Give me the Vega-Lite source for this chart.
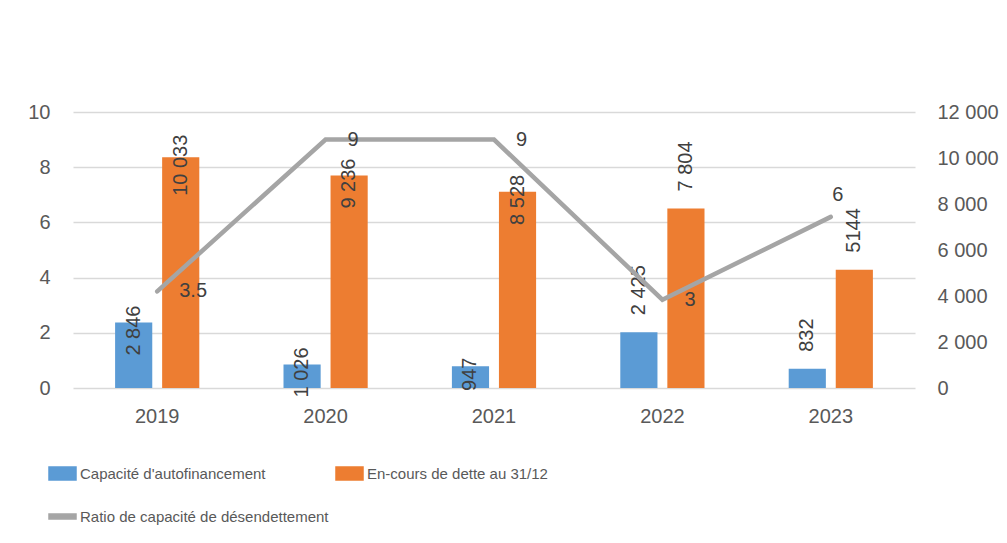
{
  "$schema": "https://vega.github.io/schema/vega-lite/v6.json",
  "width": 842,
  "height": 276,
  "autosize": {"type": "none"},
  "padding": {"left": 73, "top": 112, "right": 92, "bottom": 155},
  "background": "white",
  "config": {
    "view": {"stroke": null},
    "font": "Liberation Sans",
    "axis": {
      "labelFont": "Liberation Sans",
      "labelFontSize": 20,
      "labelColor": "#595959",
      "ticks": false,
      "domain": false,
      "title": null
    }
  },
  "datasets": {
    "bars": [
      {"year": 2019, "series": "Capacité d'autofinancement", "value": 2846, "label": "2 846"},
      {"year": 2019, "series": "En-cours de dette au 31/12", "value": 10033, "label": "10 033"},
      {"year": 2020, "series": "Capacité d'autofinancement", "value": 1026, "label": "1 026"},
      {"year": 2020, "series": "En-cours de dette au 31/12", "value": 9236, "label": "9 236"},
      {"year": 2021, "series": "Capacité d'autofinancement", "value": 947, "label": "947"},
      {"year": 2021, "series": "En-cours de dette au 31/12", "value": 8528, "label": "8 528"},
      {"year": 2022, "series": "Capacité d'autofinancement", "value": 2425, "label": "2 425"},
      {"year": 2022, "series": "En-cours de dette au 31/12", "value": 7804, "label": "7 804"},
      {"year": 2023, "series": "Capacité d'autofinancement", "value": 832, "label": "832"},
      {"year": 2023, "series": "En-cours de dette au 31/12", "value": 5144, "label": "5144"}
    ],
    "ratio": [
      {"year": 2019, "series": "Ratio de capacité de désendettement", "ratio": 3.5, "label": "3.5"},
      {"year": 2020, "series": "Ratio de capacité de désendettement", "ratio": 9.0, "label": "9"},
      {"year": 2021, "series": "Ratio de capacité de désendettement", "ratio": 9.0, "label": "9"},
      {"year": 2022, "series": "Ratio de capacité de désendettement", "ratio": 3.2, "label": "3"},
      {"year": 2023, "series": "Ratio de capacité de désendettement", "ratio": 6.2, "label": "6"}
    ]
  },
  "encoding": {
    "x": {
      "field": "year",
      "type": "nominal",
      "scale": {"paddingInner": 0.5, "paddingOuter": 0.25},
      "axis": {"labelAngle": 0, "labelPadding": 18, "grid": false}
    }
  },
  "layer": [
    {
      "data": {"name": "bars"},
      "encoding": {
        "xOffset": {
          "field": "series",
          "type": "nominal",
          "scale": {"domain": ["Capacité d'autofinancement", "En-cours de dette au 31/12"], "paddingInner": 0.21, "paddingOuter": 0}
        },
        "y": {
          "field": "value",
          "type": "quantitative",
          "scale": {"domain": [0, 12000], "nice": false},
          "axis": {
            "orient": "right",
            "values": [0, 2000, 4000, 6000, 8000, 10000, 12000],
            "labelExpr": "replace(format(datum.value, ','), ',', ' ')",
            "labelPadding": 22,
            "grid": false
          }
        }
      },
      "layer": [
        {
          "mark": {"type": "bar"},
          "encoding": {
            "color": {
              "field": "series",
              "type": "nominal",
              "scale": {
                "domain": ["Capacité d'autofinancement", "En-cours de dette au 31/12", "Ratio de capacité de désendettement"],
                "range": ["#5B9BD5", "#ED7D31", "#A5A5A5"]
              },
              "legend": {
                "title": null,
                "orient": "none",
                "legendX": -25,
                "legendY": 347,
                "direction": "horizontal",
                "columns": 2,
                "columnPadding": 4,
                "rowPadding": 19,
                "padding": 0,
                "labelFont": "Liberation Sans",
                "labelFontSize": 15,
                "labelColor": "#595959",
                "labelOffset": 3,
                "labelLimit": 400,
                "symbolSize": 729,
                "encode": {
                  "symbols": {
                    "update": {
                      "shape": {"signal": "datum.value === 'Ratio de capacité de désendettement' ? 'M-1,-0.18H1V0.18H-1Z' : 'M-1,-0.48H1V0.48H-1Z'"},
                      "fill": {"scale": "color", "field": "value"},
                      "stroke": {"value": "transparent"},
                      "opacity": {"value": 1},
                      "fillOpacity": {"value": 1}
                    }
                  }
                }
              }
            }
          }
        },
        {
          "transform": [{"filter": "datum.year <= 2021"}],
          "mark": {"type": "text", "angle": 270, "align": "center", "baseline": "middle", "dx": -8, "fontSize": 20, "color": "#404040", "font": "Liberation Sans"},
          "encoding": {"text": {"field": "label", "type": "nominal"}}
        },
        {
          "transform": [{"filter": "datum.year >= 2022"}],
          "mark": {"type": "text", "angle": 270, "align": "left", "baseline": "middle", "dx": 17, "fontSize": 20, "color": "#404040", "font": "Liberation Sans"},
          "encoding": {"text": {"field": "label", "type": "nominal"}}
        }
      ]
    },
    {
      "data": {"name": "ratio"},
      "encoding": {
        "y": {
          "field": "ratio",
          "type": "quantitative",
          "scale": {"domain": [0, 10], "nice": false},
          "axis": {
            "orient": "left",
            "values": [0, 2, 4, 6, 8, 10],
            "labelPadding": 23,
            "grid": true,
            "gridColor": "#D9D9D9",
            "gridWidth": 1.5
          }
        }
      },
      "layer": [
        {
          "mark": {"type": "line", "strokeWidth": 4.5, "strokeCap": "round"},
          "encoding": {"color": {"field": "series", "type": "nominal"}}
        },
        {
          "transform": [{"filter": "datum.year <= 2022"}],
          "mark": {"type": "text", "align": "left", "baseline": "middle", "dx": 22, "fontSize": 20, "color": "#404040", "font": "Liberation Sans"},
          "encoding": {"text": {"field": "label", "type": "nominal"}}
        },
        {
          "transform": [{"filter": "datum.year == 2023"}],
          "mark": {"type": "text", "align": "center", "baseline": "bottom", "dx": 7, "dy": -12, "fontSize": 20, "color": "#404040", "font": "Liberation Sans"},
          "encoding": {"text": {"field": "label", "type": "nominal"}}
        }
      ]
    }
  ],
  "resolve": {"scale": {"y": "independent"}}
}
